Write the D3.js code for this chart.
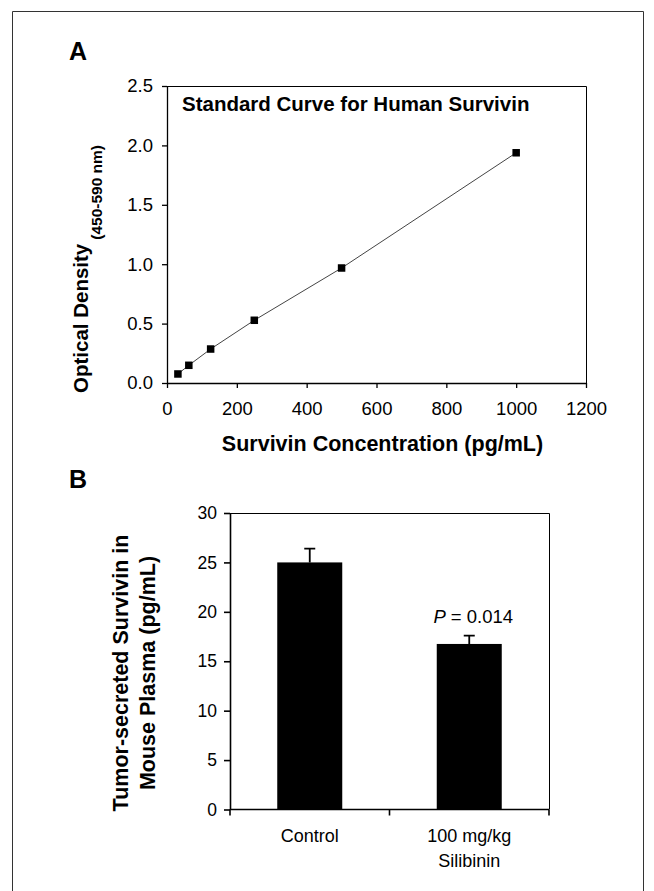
<!DOCTYPE html>
<html>
<head>
<meta charset="utf-8">
<script src="https://cdn.jsdelivr.net/npm/d3@7"></script>
<style>
  body { margin: 0; background: #fff; }
  svg { display: block; font-family: "Liberation Sans", Arial, sans-serif; }
</style>
</head>
<body>
<div id="chart"></div>
<script>
// standard curve (panel A)
const stdConc = [31.25, 62.5, 125, 250, 500, 1000];
const stdOD = [0.076, 0.149, 0.286, 0.528, 0.968, 1.938];
const odTicks = [0, 0.5, 1.0, 1.5, 2.0, 2.5];
const concTicks = [0, 200, 400, 600, 800, 1000, 1200];

// plasma survivin (panel B)
const groups = ["Control", "100 mg/kg Silibinin"];
const groupLines = [["Control"], ["100 mg/kg", "Silibinin"]];
const survivinMean = [25.0, 16.75];
const survivinErr = [1.4, 0.85];
const plasmaTicks = [0, 5, 10, 15, 20, 25, 30];

const width = 654, height = 891;

const svg = d3.select("#chart").append("svg")
    .attr("width", width)
    .attr("height", height);

// frame
svg.append("path")
    .attr("d", "M12.5,891V11.5H643.5V891")
    .attr("fill", "none")
    .attr("stroke", "#333")
    .attr("stroke-width", 1);

// ---------- Panel A ----------
const ax = d3.scaleLinear().domain([0, 1200]).range([167, 586]);
const ay = d3.scaleLinear().domain([0, 2.5]).range([383, 86]);

svg.append("text")
    .attr("x", 69).attr("y", 60)
    .style("font-size", "25px").style("font-weight", "bold")
    .text("A");

// box (top and right)
svg.append("path")
    .attr("d", `M${ax(0)},${ay(2.5) + 0.5}H${ax(1200) + 0.5}V${ay(0)}`)
    .attr("fill", "none").attr("stroke", "#000");

const gAx = svg.append("g")
    .attr("transform", `translate(0,${ay(0)})`)
    .call(d3.axisBottom(ax).tickValues(concTicks).tickSize(5).tickSizeOuter(0).tickPadding(14).tickFormat(d3.format("d")));
const gAy = svg.append("g")
    .attr("transform", `translate(${ax(0)},0)`)
    .call(d3.axisLeft(ay).tickValues(odTicks).tickSize(5).tickSizeOuter(0).tickPadding(9).tickFormat(d3.format(".1f")));

[gAx, gAy].forEach(g => {
    g.selectAll("text").style("font-size", "18.5px").attr("fill", "#000").style("font-family", "Liberation Sans, Arial, sans-serif");
    g.selectAll("line,path").attr("stroke", "#000").attr("stroke-width", 1.3);
});

svg.append("text")
    .attr("x", 182).attr("y", 111)
    .style("font-size", "20.5px").style("font-weight", "bold")
    .text("Standard Curve for Human Survivin");

const line = d3.line().x(d => ax(d[0])).y(d => ay(d[1]));
const pts = stdConc.map((c, i) => [c, stdOD[i]]);

svg.append("path")
    .datum(pts)
    .attr("d", line)
    .attr("fill", "none")
    .attr("stroke", "#444")
    .attr("stroke-width", 1);

svg.selectAll(".pt")
    .data(pts)
    .enter().append("rect")
    .attr("class", "pt")
    .attr("x", d => ax(d[0]) - 3.75)
    .attr("y", d => ay(d[1]) - 3.75)
    .attr("width", 7.5)
    .attr("height", 7.5)
    .attr("fill", "#000");

svg.append("text")
    .attr("x", (ax(0) + ax(1200)) / 2 + 6).attr("y", 451)
    .attr("text-anchor", "middle")
    .style("font-size", "21.5px").style("font-weight", "bold")
    .text("Survivin Concentration (pg/mL)");

const yTitleA = svg.append("text")
    .attr("transform", "translate(88,393) rotate(-90)")
    .style("font-weight", "bold");
yTitleA.append("tspan").style("font-size", "20.5px").text("Optical Density");
yTitleA.append("tspan").style("font-size", "15.5px").attr("dx", 4).attr("dy", 14).text("(450-590 nm)");

// ---------- Panel B ----------
const bx = d3.scaleBand().domain(groups).range([230, 549]).paddingInner(0).paddingOuter(0);
const by = d3.scaleLinear().domain([0, 30]).range([809.5, 513]);
const barW = 65;

svg.append("text")
    .attr("x", 69).attr("y", 488)
    .style("font-size", "25px").style("font-weight", "bold")
    .text("B");

svg.append("path")
    .attr("d", `M${bx.range()[0]},${by(30) + 0.5}H${bx.range()[1] + 0.5}V${by(0)}`)
    .attr("fill", "none").attr("stroke", "#000");

const gBy = svg.append("g")
    .attr("transform", `translate(${bx.range()[0]},0)`)
    .call(d3.axisLeft(by).tickValues(plasmaTicks).tickSize(6).tickSizeOuter(0).tickPadding(7));
gBy.selectAll("text").style("font-size", "17.5px").attr("fill", "#000").style("font-family", "Liberation Sans, Arial, sans-serif");
gBy.selectAll("line,path").attr("stroke", "#000").attr("stroke-width", 1.6);

// x axis with tick marks at band edges
svg.append("line")
    .attr("x1", bx.range()[0]).attr("x2", bx.range()[1])
    .attr("y1", by(0)).attr("y2", by(0))
    .attr("stroke", "#000").attr("stroke-width", 1.6);
const edges = groups.map(g => bx(g)).concat([bx.range()[1]]);
svg.selectAll(".btick")
    .data(edges)
    .enter().append("line")
    .attr("class", "btick")
    .attr("x1", d => d).attr("x2", d => d)
    .attr("y1", by(0)).attr("y2", by(0) + 6)
    .attr("stroke", "#000").attr("stroke-width", 1.6);

// error bars (drawn first so bars cover the lower half)
svg.selectAll(".err")
    .data(groups)
    .enter().append("path")
    .attr("class", "err")
    .attr("d", (g, i) => {
        const cx = bx(g) + bx.bandwidth() / 2;
        const top = by(survivinMean[i] + survivinErr[i]);
        return `M${cx},${by(survivinMean[i])}V${top}M${cx - 5.5},${top}H${cx + 5.5}`;
    })
    .attr("fill", "none").attr("stroke", "#000").attr("stroke-width", 1.8);

svg.selectAll(".bar")
    .data(groups)
    .enter().append("rect")
    .attr("class", "bar")
    .attr("x", g => bx(g) + bx.bandwidth() / 2 - barW / 2)
    .attr("y", (g, i) => by(survivinMean[i]))
    .attr("width", barW)
    .attr("height", (g, i) => by(0) - by(survivinMean[i]))
    .attr("fill", "#000");

// category labels
groupLines.forEach((lines, i) => {
    const t = svg.append("text")
        .attr("x", bx(groups[i]) + bx.bandwidth() / 2)
        .attr("y", 842)
        .attr("text-anchor", "middle")
        .style("font-size", "18px");
    lines.forEach((s, j) => {
        t.append("tspan")
            .attr("x", bx(groups[i]) + bx.bandwidth() / 2)
            .attr("dy", j === 0 ? 0 : 25)
            .text(s);
    });
});

// p value
const pText = svg.append("text")
    .attr("x", bx(groups[1]) + bx.bandwidth() / 2 + 4)
    .attr("y", 623)
    .attr("text-anchor", "middle")
    .style("font-size", "18.5px");
pText.append("tspan").style("font-style", "italic").text("P");
pText.append("tspan").text(" = 0.014");

// y title
const yTitleB = svg.append("text")
    .attr("transform", "translate(128,673) rotate(-90)")
    .attr("text-anchor", "middle")
    .style("font-size", "21.5px")
    .style("font-weight", "bold");
yTitleB.append("tspan").attr("x", 0).attr("dy", 0).text("Tumor-secreted Survivin in");
yTitleB.append("tspan").attr("x", 0).attr("dy", 27).text("Mouse Plasma (pg/mL)");
</script>
</body>
</html>
